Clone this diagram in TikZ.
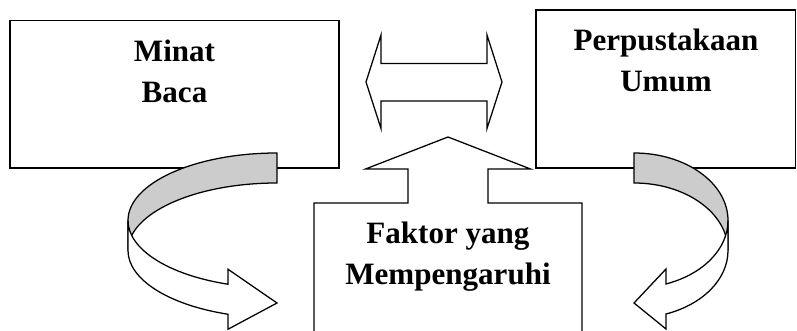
\documentclass[tikz,border=0pt]{standalone}
\usepackage{fontspec}
\setmainfont{Liberation Serif}
\usetikzlibrary{calc}

\begin{document}
\begin{tikzpicture}[x=0.75pt,y=-0.75pt,line width=0.95pt,line join=miter,
  box/.style={draw,fill=white},
  back/.style={draw,fill=black!20},
  front/.style={draw,fill=white},
  boxtext/.style={font=\fontsize{23.3}{31}\selectfont\bfseries,align=center,inner sep=0pt,anchor=base}]

\useasboundingbox (0,0) rectangle (797,331);

% Define box corners
\coordinate (MA) at (10,20.5);
\coordinate (MB) at (339,168);
\coordinate (PA) at (536,10);
\coordinate (PB) at (795.5,168);

% Boxes at the top
\draw[box] (MA) rectangle (MB);
\draw[box] (PA) rectangle (PB);

% Bottom box with the arrow pointing up
\draw (314,331) -- (314,203) -- (408,203) -- (408,169) -- (365.5,169) -- (448,137)
  -- (530.5,169) -- (488,169) -- (488,203) -- (582,203) -- (582,331);

% Double arrow between the boxes
\draw (366,82) -- (381,35) -- (381,63.5) -- (487,63.5) -- (487,35) -- (502,82)
  -- (487,128.5) -- (487,101) -- (381,101) -- (381,128.5) -- cycle;

% Left curved arrow (back part, then front part)
\draw[back] (277,153) arc[start angle=270,end angle=180,x radius=149,y radius=67.5]
  -- (128,250.5) arc[start angle=180,end angle=270,x radius=149,y radius=67.5] -- cycle;
\draw[front] (128,220.5) arc[start angle=180,end angle=109.2,x radius=149,y radius=67.5]
  -- (228,269.25) -- (277,303) -- (228,329.25) -- (228,314.25)
  arc[start angle=109.2,end angle=180,x radius=149,y radius=67.5] -- cycle;

% Right curved arrow (back part, then front part)
\draw[back] (634,153) arc[start angle=270,end angle=360,x radius=94,y radius=67.5]
  -- (728,250.5) arc[start angle=0,end angle=-90,x radius=94,y radius=67.5] -- cycle;
\draw[front] (728,220.5) arc[start angle=0,end angle=70.1,x radius=94,y radius=67.5]
  -- (666,269) -- (634,303) -- (666,329) -- (666,314)
  arc[start angle=70.1,end angle=0,x radius=94,y radius=67.5] -- cycle;

% Labels (anchored at the last baseline)
\node[boxtext] (minat) at (174.5,103) {Minat\\Baca};
\node[boxtext] (perpus) at (666,92) {Perpustakaan\\Umum};
\node[boxtext] (faktor) at (448,285) {Faktor yang\\Mempengaruhi};

\end{tikzpicture}
\end{document}
